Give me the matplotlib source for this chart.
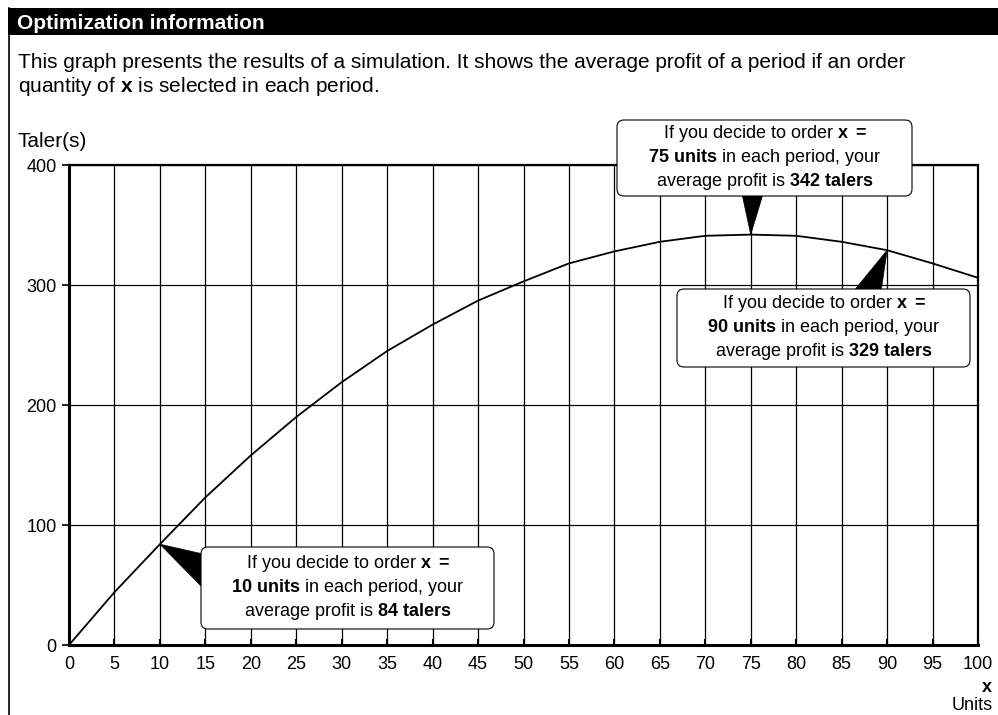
import matplotlib
matplotlib.use("Agg")
import matplotlib.pyplot as plt
from matplotlib.patches import Rectangle, FancyBboxPatch, Polygon
from matplotlib.transforms import IdentityTransform
from matplotlib.lines import Line2D

plt.rcParams['font.family'] = ['Liberation Sans', 'DejaVu Sans']
plt.rcParams['mathtext.fontset'] = 'custom'
plt.rcParams['mathtext.rm'] = 'Liberation Sans'
plt.rcParams['mathtext.bf'] = 'Liberation Sans:bold'
plt.rcParams['mathtext.it'] = 'Liberation Sans:italic'

# simulation result: average profit per period for order quantity x
units = [0, 5, 10, 15, 20, 25, 30, 35, 40, 45, 50,
         55, 60, 65, 70, 75, 80, 85, 90, 95, 100]
profit = [0, 44, 84, 123, 158, 190, 219, 245, 267, 287, 303,
          318, 328, 336, 341, 342, 341, 336, 329, 318, 306]
x_ticks = list(range(0, 101, 5))
y_ticks = [0, 100, 200, 300, 400]
callout_units = [10, 75, 90]

W, H = 998, 715
fig = plt.figure(figsize=(W / 100, H / 100), dpi=100)


def fx(px):
    return px / W


def fy(py):
    return 1 - py / H


# header bar + left frame line
fig.add_artist(Rectangle((fx(8), fy(35)), 1 - fx(8), fy(8) - fy(35),
                         transform=fig.transFigure, fc='black', ec='none'))
fig.add_artist(Line2D([fx(9), fx(9)], [fy(8), 0], color='black', lw=1.2))
fig.text(fx(17), fy(29), "Optimization information", color='white',
         fontsize=15, fontweight='bold', va='baseline')

fig.text(fx(18), fy(68), "This graph presents the results of a simulation. "
         "It shows the average profit of a period if an order",
         fontsize=15, va='baseline')
fig.text(fx(18), fy(92), r"quantity of $\mathbf{x}$ is selected in each period.",
         fontsize=15, va='baseline')
fig.text(fx(18), fy(147), "Taler(s)", fontsize=15, va='baseline')
fig.text(fx(992), fy(692), "x", fontsize=13, fontweight='bold',
         ha='right', va='baseline')
fig.text(fx(993), fy(710), "Units", fontsize=13, ha='right', va='baseline')

# main chart
ax = fig.add_axes([fx(69), fy(645), fx(978) - fx(69), fy(165) - fy(645)])
ax.plot(units, profit, color='black', lw=1.3, zorder=3)
ax.set_xlim(0, 100)
ax.set_ylim(0, 400)
ax.set_xticks(x_ticks)
ax.set_yticks(y_ticks)
ax.grid(True, color='black', lw=0.9)
ax.set_axisbelow(True)
ax.tick_params(axis='x', direction='in', length=4, width=1.5, pad=8,
               labelsize=13)
ax.tick_params(axis='y', direction='out', length=5, width=1.2, pad=4,
               labelsize=13)
for side in ['left', 'bottom']:
    ax.spines[side].set_linewidth(2.2)
for side in ['top', 'right']:
    ax.spines[side].set_linewidth(1.6)

# callouts: box (left, top, right, bottom in px) and wedge base points
boxes = {
    10: ((201, 547, 494, 629), [(203, 554), (203, 588)]),
    75: ((617, 120, 912, 196), [(742, 194), (763, 194)]),
    90: ((677, 289, 970, 367), [(853, 292), (881, 292)]),
}
for u in callout_units:
    p = profit[units.index(u)]
    (x0, y0, x1, y1), base = boxes[u]
    apex = ax.transData.transform((u, p))
    pts = [tuple(apex)] + [(bx, H - by) for bx, by in base]
    fig.add_artist(Polygon(pts, closed=True, transform=IdentityTransform(),
                           fc='black', ec='black', lw=0.5, zorder=4))
    fig.add_artist(FancyBboxPatch((x0, H - y1), x1 - x0, y1 - y0,
                                  boxstyle="round,pad=0,rounding_size=7",
                                  transform=IdentityTransform(),
                                  fc='white', ec='black', lw=0.8, zorder=5))
    label = (r"If you decide to order $\mathbf{x}$ $\mathbf{=}$" + "\n"
             + r"$\mathbf{" + str(u) + r"\ units}$ in each period, your" + "\n"
             + r"average profit is $\mathbf{" + str(p) + r"\ talers}$")
    fig.text(fx((x0 + x1) / 2), fy((y0 + y1) / 2), label, fontsize=13,
             ha='center', va='center', multialignment='center',
             linespacing=1.2, zorder=6)

fig.savefig("out.png", dpi=100)
